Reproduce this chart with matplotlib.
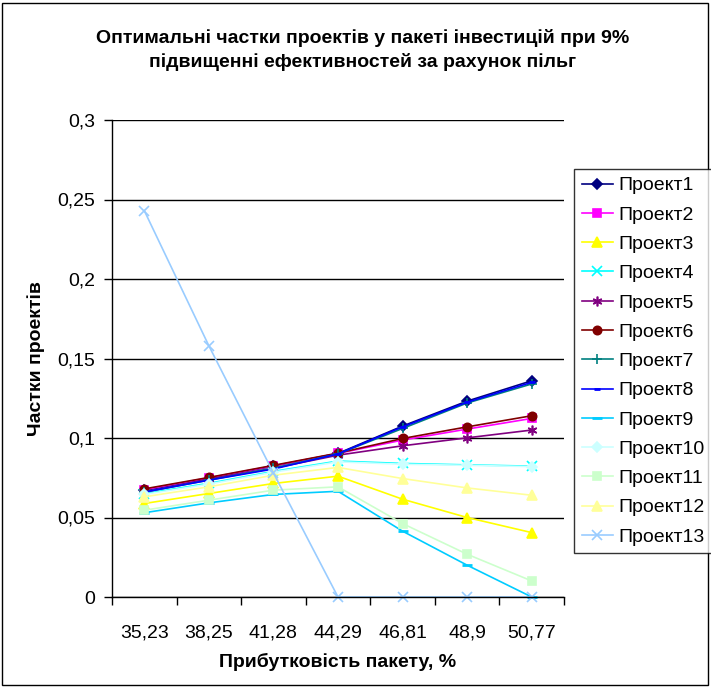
import matplotlib
matplotlib.use("Agg")
import matplotlib.pyplot as plt
from matplotlib.patches import Rectangle

plt.rcParams['font.family'] = ['Liberation Sans', 'DejaVu Sans']

categories = ['35,23', '38,25', '41,28', '44,29', '46,81', '48,9', '50,77']
series_names = ['Проект1', 'Проект2', 'Проект3', 'Проект4', 'Проект5', 'Проект6', 'Проект7',
                'Проект8', 'Проект9', 'Проект10', 'Проект11', 'Проект12', 'Проект13']
p1 = [0.067, 0.0745, 0.0823, 0.0903, 0.1075, 0.1232, 0.136]
p2 = [0.0675, 0.075, 0.0825, 0.0903, 0.0987, 0.1056, 0.1123]
p3 = [0.0588, 0.0651, 0.0714, 0.076, 0.0615, 0.050, 0.0405]
p4 = [0.065, 0.0715, 0.079, 0.0855, 0.084, 0.0831, 0.0823]
p5 = [0.066, 0.074, 0.081, 0.0892, 0.0951, 0.1001, 0.105]
p6 = [0.068, 0.0752, 0.0828, 0.0905, 0.0997, 0.107, 0.114]
p7 = [0.066, 0.0735, 0.081, 0.090, 0.106, 0.122, 0.134]
p8 = [0.066, 0.0735, 0.0805, 0.090, 0.107, 0.1225, 0.135]
p9 = [0.053, 0.0592, 0.0645, 0.0665, 0.0414, 0.020, 0.0]
p10 = [0.0645, 0.071, 0.0785, 0.085, 0.0835, 0.0828, 0.082]
p11 = [0.0546, 0.0609, 0.0672, 0.0693, 0.0462, 0.0269, 0.0101]
p12 = [0.063, 0.0693, 0.0766, 0.0815, 0.0745, 0.0686, 0.064]
p13 = [0.243, 0.158, 0.078, 0.0, 0.0, 0.0, 0.0]
values = [p1, p2, p3, p4, p5, p6, p7, p8, p9, p10, p11, p12, p13]

colors = ['#000080', '#FF00FF', '#FFFF00', '#00FFFF', '#800080', '#800000', '#008080',
          '#0000FF', '#00CCFF', '#CCFFFF', '#CCFFCC', '#FFFF99', '#99CCFF']
markers = ['D', 's', '^', 'x', (6, 2, 0), 'o', '+', '_', '_', 'D', 's', '^', 'x']
msizes = [5, 5.5, 6.5, 6.5, 7, 6, 7, 5, 7, 5, 5.5, 6.5, 6.5]

fig = plt.figure(figsize=(7.11, 6.87), dpi=100)
ax = fig.add_axes([112 / 711, 90 / 687, 452 / 711, 477 / 687])

x = list(range(len(categories)))
for vals, name, c, m, ms in zip(values, series_names, colors, markers, msizes):
    mew = 2 if m == '_' else 1.2
    ax.plot(x, vals, color=c, marker=m, markersize=ms, markerfacecolor=c,
            markeredgecolor=c, markeredgewidth=mew, linewidth=1.2, label=name,
            clip_on=False)

ax.set_xlim(-0.5, len(categories) - 0.5)
ax.set_ylim(0, 0.3)
yt = [0, 0.05, 0.1, 0.15, 0.2, 0.25, 0.3]
ax.set_yticks(yt)
ax.set_yticklabels(['0', '0,05', '0,1', '0,15', '0,2', '0,25', '0,3'], fontsize=14)
ax.set_xticks(x)
ax.set_xticklabels(categories, fontsize=14)
ax.set_xticks([i - 0.5 for i in range(len(categories) + 1)], minor=True)
ax.tick_params(axis='x', which='major', length=0, pad=20)
ax.tick_params(axis='x', which='minor', length=6, width=1, direction='out')
ax.tick_params(axis='y', length=6, width=1, direction='out', pad=6)
ax.grid(axis='y', color='black', linewidth=1)
ax.set_axisbelow(True)
for s in ['top', 'right']:
    ax.spines[s].set_visible(False)
for s in ['left', 'bottom']:
    ax.spines[s].set_linewidth(1)

ax.set_xlabel('Прибутковість пакету, %', fontsize=14, fontweight='bold', labelpad=8)
ax.set_ylabel('Частки проектів', fontsize=14, fontweight='bold', labelpad=9)

fig.text(0.51, 1 - 50 / 687, 'Оптимальні частки проектів у пакеті інвестицій при 9%\nпідвищенні ефективностей за рахунок пільг',
         ha='center', va='center', fontsize=14, fontweight='bold', linespacing=1.45)

leg = fig.legend(loc='upper left', bbox_to_anchor=(574 / 711, 1 - 169 / 687),
                 frameon=True, fancybox=False, fontsize=14, handlelength=1.6,
                 labelspacing=0.6, borderpad=0.4, handletextpad=0.3, borderaxespad=0)
leg.get_frame().set_edgecolor('black')
leg.get_frame().set_linewidth(1)

fig.patches.append(Rectangle((2 / 711, 2 / 687), 706 / 711, 682 / 687, transform=fig.transFigure,
                             fill=False, edgecolor='black', linewidth=1))

fig.savefig('out.png', dpi=100)
